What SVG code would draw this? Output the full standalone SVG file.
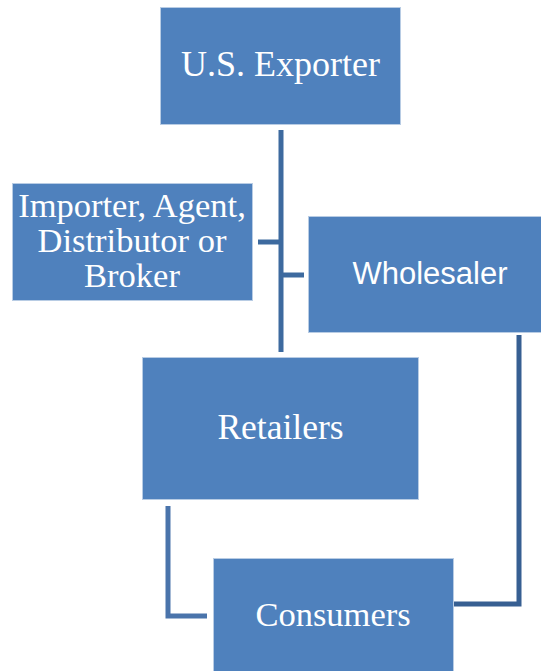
<svg xmlns="http://www.w3.org/2000/svg" width="541" height="671" viewBox="0 0 541 671">
<style>
.box{fill:#4f81bd;stroke:#b8cce4;stroke-width:1}
.serif{font-family:"Liberation Serif","Times New Roman",serif;font-size:34.5px;fill:#ffffff;text-anchor:middle}
.sans{font-family:"Liberation Sans",Arial,sans-serif;font-size:31px;fill:#ffffff;text-anchor:middle}
.conn{fill:none;stroke:#3d6a9f;stroke-width:5}
</style>
<rect width="541" height="671" fill="#ffffff"/>
<g id="connectors">
<path class="conn" d="M281,130 V352"/>
<path class="conn" d="M258,242 H281"/>
<path class="conn" d="M281,275 H304"/>
<path class="conn" d="M168,506 V616 H207" style="stroke:#4a74ab"/>
<path class="conn" d="M453,604 H519 V335" style="stroke:#375f92"/>
</g>
<g id="exporter">
<rect class="box" x="160.5" y="7.5" width="240" height="117"/>
<text class="serif" x="280.5" y="76" style="font-size:36px">U.S. Exporter</text>
</g>
<g id="importer">
<rect class="box" x="12.5" y="183.5" width="240" height="117"/>
<text class="serif" x="132" y="217">Importer, Agent,</text>
<text class="serif" x="132" y="252">Distributor or</text>
<text class="serif" x="132" y="287">Broker</text>
</g>
<g id="wholesaler">
<rect class="box" x="308.5" y="216.5" width="236" height="116"/>
<text class="sans" x="430" y="284">Wholesaler</text>
</g>
<g id="retailers">
<rect class="box" x="142.5" y="357.5" width="276" height="142"/>
<text class="serif" x="280.5" y="439" style="font-size:35.5px">Retailers</text>
</g>
<g id="consumers">
<rect class="box" x="213.5" y="558.5" width="240" height="116"/>
<text class="serif" x="333" y="626">Consumers</text>
</g>
</svg>
